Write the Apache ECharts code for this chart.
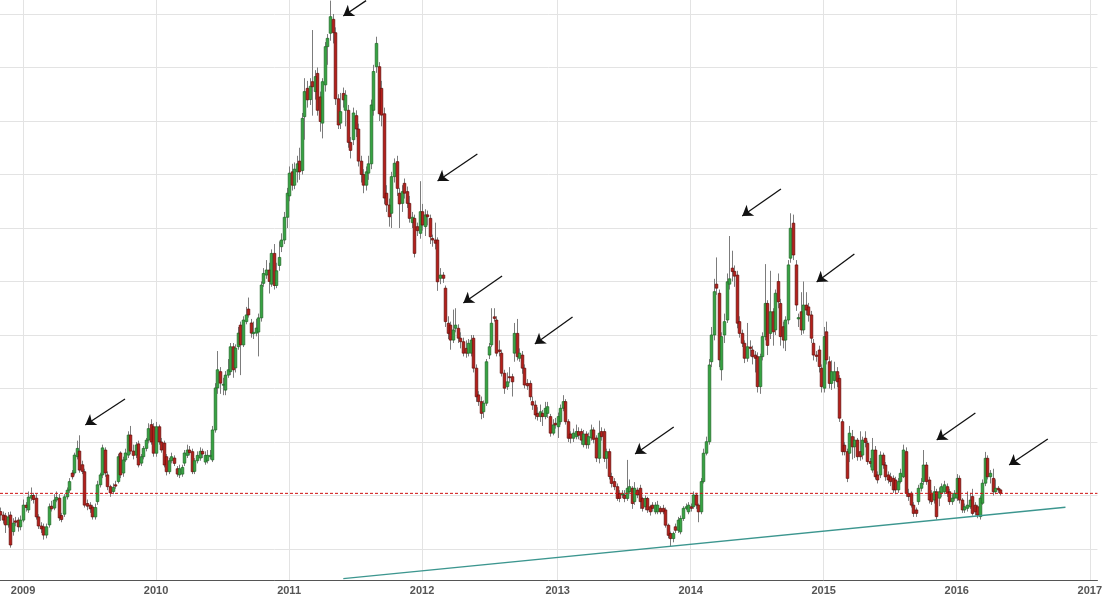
<!DOCTYPE html>
<html><head><meta charset="utf-8">
<script src="https://cdn.jsdelivr.net/npm/echarts@6/dist/echarts.min.js"></script>
<style>html,body{margin:0;padding:0;background:#fff;} #c{width:1105px;height:598px;}</style>
</head><body><div id="c"></div>
<script>
// Weekly coffee futures (US cents/lb), one candle per week starting 2008-11-03
const opens = [
114.0,112.7,112.4,109.0,112.7,106.5,110.5,110.8,108.3,110.8,
116.4,114.6,119.0,120.0,119.0,112.0,108.6,108.3,105.2,109.0,
116.0,115.3,118.3,119.0,112.5,113.0,119.5,122.0,128.4,128.4,
134.5,136.6,131.5,128.9,117.0,116.4,115.7,112.0,117.7,124.0,
127.7,137.0,127.7,123.3,121.5,124.0,125.2,135.9,128.4,133.3,
135.1,142.6,136.6,135.1,139.3,132.1,134.5,137.6,140.7,146.5,
145.7,135.8,145.7,140.0,139.6,134.5,128.9,133.0,134.0,130.0,
127.7,128.0,132.1,135.0,137.0,136.4,129.0,133.0,134.0,136.5,
132.5,133.0,134.5,133.3,144.5,160.2,166.3,161.3,159.4,165.0,
166.3,175.6,167.7,175.6,183.7,176.3,185.0,189.7,184.5,180.5,
180.7,181.1,186.4,199.3,202.4,204.3,199.0,210.5,198.5,206.0,
213.0,215.5,224.0,232.0,241.0,236.0,241.0,245.0,241.5,261.6,
272.2,268.0,274.7,271.0,277.8,269.0,259.2,273.5,287.8,292.8,
298.0,293.0,268.3,259.2,270.3,264.0,264.0,252.0,253.0,262.0,
257.0,245.0,240.0,236.0,240.5,244.0,264.0,280.3,280.3,272.2,
262.7,233.0,228.6,225.5,239.2,244.8,233.0,229.2,236.7,233.6,
229.2,222.0,223.6,220.5,218.0,226.1,220.5,224.9,223.6,216.1,
215.5,215.5,201.2,202.4,197.5,184.4,183.7,178.1,182.5,182.5,
178.8,177.5,175.0,173.2,173.2,178.8,167.6,157.6,155.1,151.3,
154.5,172.5,176.3,186.8,185.6,174.4,173.2,165.7,160.7,164.4,
164.4,173.2,180.6,171.3,172.5,167.6,161.9,161.9,155.1,153.8,
150.7,149.5,150.7,149.5,150.7,149.5,143.3,147.0,145.7,147.6,
152.6,155.1,147.6,143.0,141.4,142.0,143.9,143.9,139.0,143.0,
139.0,141.5,144.5,141.5,133.9,143.9,143.9,133.9,136.4,127.1,
125.2,123.3,120.8,120.2,120.2,118.9,121.4,122.7,117.7,122.0,
122.7,118.9,115.8,118.9,115.8,116.4,113.9,113.9,115.2,115.2,
114.6,108.9,105.8,103.9,108.3,107.0,106.4,111.4,115.2,113.9,
115.8,115.8,120.2,116.4,113.9,125.2,135.8,140.1,170.0,180.0,
199.0,195.6,167.0,180.0,185.6,199.0,205.0,203.8,202.4,185.0,
180.6,176.9,171.3,175.5,174.4,172.5,171.9,160.7,171.9,179.4,
191.8,180.6,188.7,181.9,200.0,191.8,183.1,178.1,185.6,208.7,
221.8,206.2,186.0,188.7,181.9,191.2,190.5,187.5,176.9,172.5,
174.4,167.6,160.1,181.2,170.0,161.9,163.0,166.3,163.8,147.6,
138.8,136.4,135.8,142.0,138.2,140.7,136.4,135.1,141.4,139.5,
132.7,129.5,137.0,127.7,127.7,135.1,131.4,127.7,127.0,126.4,
125.8,122.1,125.2,127.0,136.4,120.8,120.8,116.4,114.6,117.7,
122.7,125.2,131.4,125.8,120.8,118.3,121.4,119.0,120.8,121.4,
123.3,121.4,117.7,119.0,119.0,126.4,118.3,114.6,115.2,115.8,
119.6,116.4,115.8,112.1,117.1,124.6,133.9,127.0,126.4,121.4,
122.7,122.1
];
const closes = [
112.7,110.8,109.0,112.0,101.5,109.7,110.0,108.3,110.8,116.4,
115.5,119.4,120.0,118.5,112.0,108.6,107.5,105.2,108.3,115.8,
115.0,118.3,119.3,111.6,111.0,119.5,122.0,125.2,127.0,135.1,
137.6,129.5,129.0,116.4,116.0,115.0,112.0,115.5,124.0,127.7,
137.8,128.4,123.3,121.0,123.0,123.5,134.5,127.7,133.3,135.9,
142.6,136.6,135.0,138.9,131.4,134.5,137.6,140.7,145.0,140.0,
135.8,145.7,140.0,137.0,131.4,128.9,133.0,134.5,132.0,128.0,
130.0,130.5,135.9,137.0,136.0,128.9,133.0,135.0,136.5,135.5,
135.0,135.0,135.0,144.5,160.2,167.0,162.0,161.6,165.0,167.0,
175.6,167.0,175.1,180.7,176.3,185.6,187.5,187.5,180.7,181.0,
182.6,186.4,198.7,203.0,204.3,200.0,210.5,198.5,204.0,209.0,
215.5,224.0,233.0,240.5,236.0,242.0,244.0,241.0,261.0,271.0,
267.9,273.0,272.8,276.6,264.0,259.8,274.7,287.8,290.9,299.0,
293.0,268.3,258.5,263.5,267.9,269.7,252.0,249.0,263.0,257.0,
245.0,240.0,236.0,241.0,244.0,266.0,278.5,289.0,262.7,262.2,
231.2,228.6,224.2,239.2,244.2,234.8,229.0,233.6,233.0,229.2,
223.6,224.0,210.5,219.0,226.1,221.1,224.9,224.2,216.7,215.5,
214.3,199.9,202.4,201.2,185.0,180.6,178.1,181.9,183.7,178.8,
177.5,173.2,173.2,176.9,178.1,167.6,156.9,155.1,150.7,154.5,
170.0,175.6,184.4,186.2,173.2,173.8,165.7,160.1,162.5,164.2,
162.5,180.6,171.9,173.2,167.6,161.3,161.0,156.9,153.8,150.1,
149.5,151.3,149.5,152.6,153.2,143.3,146.4,146.4,149.5,152.6,
155.1,147.6,141.4,141.4,143.3,143.9,142.5,140.7,143.0,139.0,
142.0,144.5,141.0,134.0,143.3,142.0,133.9,136.4,127.1,124.5,
123.3,118.9,118.9,120.8,118.9,122.7,123.3,117.0,122.7,120.2,
117.7,115.2,118.9,114.6,113.9,115.2,116.4,116.4,113.9,113.9,
108.9,105.1,103.9,105.8,107.0,110.8,111.4,115.2,115.8,116.4,
115.2,120.2,116.4,113.9,125.2,135.8,140.1,168.8,180.0,196.2,
197.5,170.7,179.4,185.0,199.9,201.0,203.7,202.0,184.4,180.6,
176.9,171.3,175.6,175.0,171.9,171.3,160.7,171.9,179.4,191.8,
176.1,188.7,181.2,195.6,192.4,179.4,178.1,185.6,206.2,219.9,
209.9,191.2,186.5,181.9,191.2,189.3,187.4,178.8,172.5,172.0,
168.2,160.7,179.4,170.7,161.9,166.3,166.3,162.5,148.9,136.4,
136.4,126.4,143.3,138.2,140.7,134.5,134.5,140.7,139.8,132.7,
132.0,137.0,127.0,125.8,135.1,131.4,127.0,125.8,125.2,122.1,
122.1,125.2,128.3,137.0,120.8,119.6,116.4,113.3,113.3,122.7,
124.6,131.4,125.2,118.3,117.7,121.4,112.1,121.4,123.3,124.0,
120.8,117.7,119.0,120.8,126.4,118.3,114.6,115.8,116.4,118.3,
113.3,113.9,112.7,119.0,124.6,133.9,127.0,128.3,121.4,122.7,
122.1,120.8
];
const highs = [
115.5,114.0,113.5,113.8,114.0,111.5,112.0,111.8,112.5,118.5,
117.5,121.5,123.0,121.0,120.5,113.0,110.0,109.5,109.5,117.0,
118.0,120.5,121.5,120.5,113.5,120.5,123.0,126.5,129.5,136.0,
140.5,142.5,133.0,130.0,118.5,117.5,116.5,117.0,125.5,128.5,
139.0,138.0,129.0,124.0,124.5,125.5,135.5,136.5,134.5,137.5,
144.0,146.0,139.0,140.0,140.5,135.5,138.5,141.5,147.0,148.5,
147.0,147.5,146.5,141.5,140.5,135.5,134.0,136.0,135.0,131.0,
131.5,131.5,137.0,139.0,138.5,137.5,134.0,136.5,138.0,137.5,
136.5,137.0,137.0,146.0,162.0,174.0,168.0,164.0,166.5,171.0,
177.0,177.0,176.5,183.0,185.0,187.0,190.5,194.0,186.0,185.0,
186.0,188.0,200.0,205.0,208.0,207.0,212.0,214.0,207.0,215.0,
218.0,226.0,235.0,243.0,244.0,244.5,247.0,250.0,263.0,276.0,
275.0,276.0,294.0,279.0,280.0,271.0,276.0,289.5,292.5,305.0,
300.0,295.0,270.0,270.5,272.5,271.5,266.0,254.0,265.0,264.0,
259.0,247.0,242.0,243.0,247.0,268.0,281.0,291.5,282.0,275.0,
265.0,236.0,231.0,241.0,246.0,247.0,235.0,236.0,238.5,235.5,
232.0,226.0,225.0,222.0,237.5,229.0,227.0,226.5,225.0,217.5,
222.0,216.5,205.0,203.5,198.5,187.0,185.0,189.5,190.0,184.0,
181.0,179.0,178.0,178.5,180.0,180.0,169.0,159.0,157.0,155.5,
171.0,177.0,190.0,190.0,187.0,178.0,174.5,167.0,166.0,168.0,
165.5,184.5,186.0,175.0,174.0,169.0,163.5,163.0,157.0,155.5,
153.0,154.0,152.0,155.0,155.0,150.5,148.5,149.0,151.0,154.0,
157.5,156.0,148.5,144.0,145.0,146.5,145.5,145.0,144.5,144.0,
143.5,146.5,145.5,142.5,148.0,145.5,145.0,137.5,137.5,128.5,
126.5,124.5,122.0,122.0,122.0,133.3,126.0,123.5,125.0,123.0,
124.0,119.5,120.0,119.5,116.5,117.5,117.5,118.0,116.0,116.5,
115.5,109.5,106.5,106.5,109.5,112.0,112.5,116.0,117.0,117.5,
117.0,121.5,121.0,117.0,126.5,137.5,142.0,171.0,183.0,201.0,
209.0,197.0,181.0,188.0,203.0,217.0,211.5,206.0,204.0,187.0,
182.0,178.0,184.5,178.0,176.0,174.0,173.5,173.0,181.0,206.5,
193.0,204.0,190.0,197.0,203.0,193.5,185.0,187.0,208.0,225.5,
225.0,208.0,188.0,196.0,200.0,196.0,192.0,189.0,178.5,174.0,
176.0,169.0,183.0,185.0,172.0,170.5,170.0,168.0,165.0,148.5,
140.0,137.5,146.0,144.5,142.0,141.5,144.0,142.0,144.0,140.5,
134.0,141.5,138.5,129.0,136.5,136.0,132.5,129.0,128.5,127.5,
127.0,126.5,130.0,139.0,138.0,122.5,121.5,117.5,115.5,124.0,
126.5,137.0,132.5,127.0,122.0,123.5,122.5,123.0,124.5,125.5,
124.5,122.5,120.5,122.0,128.0,127.5,119.0,117.0,121.5,121.0,
122.5,117.5,116.5,120.0,126.0,136.3,135.0,129.5,130.0,126.0,
123.5,122.5
];
const lows = [
110.5,109.5,106.0,108.0,100.5,105.0,108.5,106.5,107.0,110.0,
114.0,113.5,118.0,117.0,111.0,107.5,106.0,103.5,104.0,108.0,
114.0,114.5,117.5,110.5,110.0,112.0,118.5,121.0,126.0,127.5,
133.5,128.5,128.0,115.5,114.5,113.5,111.0,111.0,116.5,123.0,
126.5,127.0,122.0,119.5,120.5,122.5,124.5,126.5,127.0,132.5,
134.0,135.5,133.5,134.0,130.5,131.0,133.5,136.5,139.5,139.0,
134.5,134.5,139.0,136.0,130.5,127.5,128.0,132.0,131.0,127.0,
126.5,127.0,131.0,134.0,135.0,128.0,128.0,132.0,133.0,134.0,
131.5,132.0,133.5,132.5,143.5,158.0,158.0,157.5,157.5,164.0,
165.0,164.0,166.0,174.5,165.0,175.5,184.0,186.5,179.0,178.5,
179.5,172.0,185.0,198.0,201.0,195.5,198.0,197.0,197.5,204.0,
211.0,214.0,220.0,230.0,234.0,234.5,237.0,238.0,240.0,253.0,
265.0,266.0,262.0,268.0,262.0,256.0,253.5,271.0,281.0,290.0,
289.0,266.0,257.0,257.0,265.0,258.0,250.0,246.0,251.0,254.0,
243.0,237.0,233.0,234.0,238.0,242.0,262.0,278.0,260.0,258.0,
229.0,226.0,220.5,220.0,237.0,232.0,220.0,226.0,231.0,227.5,
222.0,220.0,209.0,217.0,216.0,219.0,217.0,221.0,214.0,213.0,
212.0,196.5,199.0,199.5,183.0,178.5,174.5,177.0,181.0,177.0,
175.0,172.0,171.5,172.0,172.0,166.0,155.0,153.5,148.5,149.0,
153.5,171.0,175.5,185.0,172.0,172.0,164.5,158.0,159.5,162.0,
157.0,170.0,170.5,170.0,165.5,160.0,159.5,155.5,152.0,148.5,
148.0,147.5,146.0,148.5,149.0,142.0,142.5,145.0,141.5,146.5,
151.5,146.5,140.0,139.5,140.0,141.0,141.0,139.0,138.0,137.5,
137.5,140.5,139.5,132.5,132.0,140.5,132.5,130.0,126.0,123.0,
122.0,118.0,117.5,119.0,117.5,118.0,120.5,115.0,116.5,119.0,
115.0,114.0,114.5,113.5,112.5,114.0,113.0,113.0,113.0,113.0,
108.0,104.0,101.0,102.5,106.0,106.0,105.5,110.5,114.5,113.0,
114.0,115.0,115.0,110.0,113.0,124.5,135.0,139.0,168.0,178.0,
195.0,168.0,163.0,177.0,184.5,197.0,200.0,198.0,182.5,179.0,
175.5,169.5,170.0,172.0,169.0,166.0,158.5,158.0,170.5,178.0,
172.5,178.5,176.0,180.0,190.0,176.0,175.0,174.0,184.0,207.0,
208.0,189.0,183.0,180.0,180.5,187.5,185.0,177.0,170.5,170.0,
166.0,158.5,158.5,169.0,160.0,159.5,160.0,160.5,147.5,135.0,
135.0,125.0,132.5,133.5,134.0,133.0,133.0,133.5,138.0,131.5,
130.5,128.5,126.0,124.5,126.5,130.0,125.5,124.5,123.5,121.0,
120.5,121.0,124.5,126.5,119.5,118.0,115.5,112.0,112.0,116.5,
121.5,124.0,124.0,117.0,116.5,117.0,111.0,116.0,119.5,120.5,
119.5,116.5,116.5,118.0,118.0,117.0,113.5,113.5,114.0,115.0,
112.5,112.5,111.5,111.0,116.5,123.5,126.0,124.5,120.0,120.5,
121.0,120.0
];

// horizontal grid levels (cents)
const gridLevels = [100,120,140,160,180,200,220,240,260,280,300];
// trend line end points: [week index, price]
const trendline = [[134.2, 88.9], [416.5, 115.6]];
// annotation arrows: [tail, head] as [week index, price]
const arrows = [
  [[48.87,156.07],[33.36,146.36]],
  [[143.1,305.0],[134.2,299.25]],
  [[186.6,247.66],[171.06,237.57]],
  [[196.27,202.06],[181.14,191.96]],
  [[223.81,186.73],[209.07,176.64]],
  [[263.37,145.61],[248.25,135.51]],
  [[305.27,234.58],[290.14,224.49]],
  [[333.98,210.28],[319.23,199.81]],
  [[381.28,150.84],[366.16,140.75]],
  [[409.6,141.12],[394.48,131.4]]
];

// weekly category axis (Mondays) from 2008-11-03 to 2017-01-30
const weeks = [];
const t0 = Date.UTC(2008, 10, 3);
for (let i = 0; i < 430; i++) {
  weeks.push(new Date(t0 + i * 7 * 86400000).toISOString().slice(0, 10));
}
const isYearStart = (i) => { const v = weeks[i]; return v.slice(5, 7) === '01' && +v.slice(8, 10) <= 7; };

const n = Math.min(opens.length, closes.length, highs.length, lows.length);
const candleData = [];
for (let i = 0; i < n; i++) candleData.push([i, opens[i], closes[i], lows[i], highs[i]]);
const lastClose = closes[n - 1];

function renderCandle(params, api) {
  const i = api.value(0);
  const o = api.value(1), c = api.value(2), l = api.value(3), h = api.value(4);
  const po = api.coord([i, o]), pc = api.coord([i, c]);
  const pl = api.coord([i, l]), ph = api.coord([i, h]);
  const x = Math.round(po[0]) + 0.5;
  const up = c >= o;
  const top = Math.min(po[1], pc[1]);
  const hgt = Math.max(Math.abs(pc[1] - po[1]), 1);
  return {
    type: 'group',
    children: [
      { type: 'line', shape: { x1: x, y1: ph[1], x2: x, y2: pl[1] }, style: { stroke: '#7c7c7c', lineWidth: 1 } },
      { type: 'rect', shape: { x: x - 1.3, y: top, width: 2.6, height: hgt },
        style: { fill: up ? '#36a442' : '#b5201b', stroke: up ? '#1c6624' : '#600a07', lineWidth: 0.7 } }
    ]
  };
}

function renderGrid(params, api) {
  const cs = params.coordSys;
  const y = Math.round(api.coord([0, api.value(1)])[1]) + 0.5;
  return { type: 'line', shape: { x1: cs.x, y1: y, x2: cs.x + cs.width, y2: y },
           style: { stroke: '#e3e3e3', lineWidth: 1 } };
}

const chart = echarts.init(document.getElementById('c'), null, { renderer: 'canvas' });
chart.setOption({
  animation: false,
  backgroundColor: '#ffffff',
  grid: { left: -1, right: 0, top: 0, bottom: 18, containLabel: false },
  xAxis: [
    {
      type: 'category', data: weeks, boundaryGap: false,
      axisLine: { show: true, lineStyle: { color: '#555555', width: 1 } },
      axisTick: { show: false, interval: (i) => isYearStart(i) },
      axisLabel: {
        interval: (i) => isYearStart(i),
        formatter: (v) => v.slice(0, 4),
        color: '#555555', fontWeight: 'bold', fontSize: 11,
        fontFamily: 'Liberation Sans, Arial, sans-serif', margin: 5
      },
      splitLine: { show: true, interval: (i) => isYearStart(i), lineStyle: { color: '#e3e3e3', width: 1 } }
    },
    { type: 'value', min: 0, max: 429, show: false }
  ],
  yAxis: { type: 'value', min: 88.41, max: 305.23, show: false },
  series: [
    {
      type: 'custom', name: 'grid', xAxisIndex: 1, yAxisIndex: 0, z: 1, silent: true,
      data: gridLevels.map(v => [0, v]), encode: { x: 0, y: 1 },
      renderItem: renderGrid
    },
    {
      type: 'custom', name: 'candles', xAxisIndex: 0, yAxisIndex: 0, z: 3, clip: true,
      data: candleData, encode: { x: 0, y: [1, 2, 3, 4] },
      renderItem: renderCandle
    },
    {
      type: 'line', name: 'last', xAxisIndex: 1, yAxisIndex: 0, z: 4, silent: true,
      data: [[0, lastClose], [429, lastClose]], symbol: 'none',
      color: '#d01010',
      lineStyle: { color: '#d01010', width: 1, type: [3, 2] }
    },
    {
      type: 'line', name: 'trend', xAxisIndex: 1, yAxisIndex: 0, z: 4, silent: true,
      data: trendline, symbol: 'none',
      lineStyle: { color: '#3c968f', width: 1.3 },
      markLine: {
        silent: true, symbol: ['none', 'arrow'], symbolSize: 10,
        label: { show: false },
        lineStyle: { color: '#111111', width: 1.3, type: 'solid' },
        data: arrows.map(a => [{ coord: a[0] }, { coord: a[1] }])
      }
    }
  ]
});
</script>
</body></html>
